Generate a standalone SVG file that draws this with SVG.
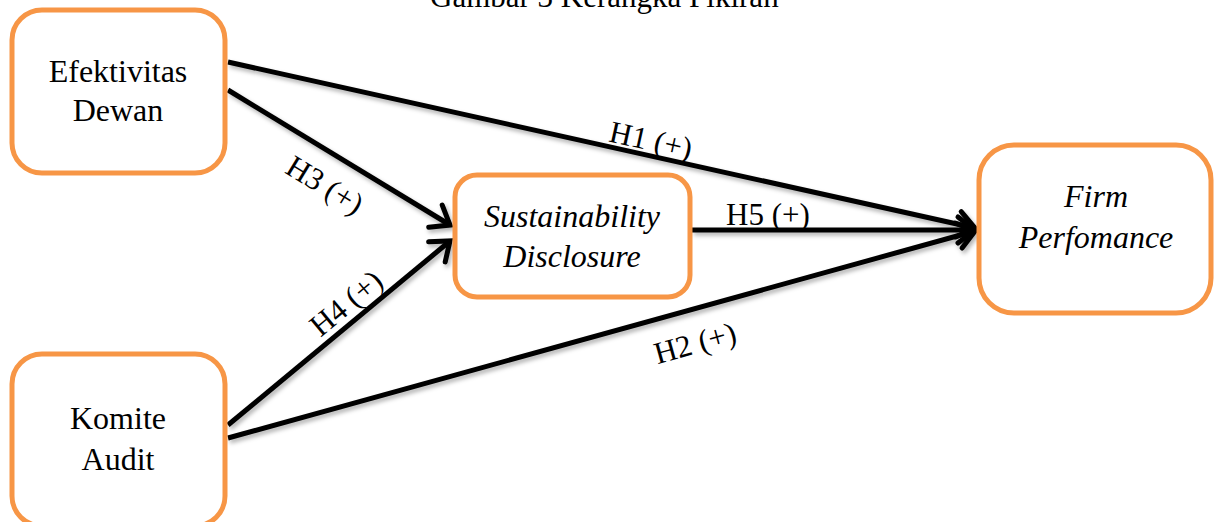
<svg xmlns="http://www.w3.org/2000/svg" width="1215" height="522" viewBox="0 0 1215 522">
<style>
.box{fill:#fff;stroke:#F79646;stroke-width:5}
.t{font-family:"Liberation Serif","Times New Roman",serif;font-size:32px;fill:#000;text-anchor:middle}
.i{font-style:italic}
.lbl{font-family:"Liberation Serif","Times New Roman",serif;font-size:31px;fill:#000;text-anchor:middle}
.ln{stroke:#000;stroke-width:5;fill:none;marker-end:url(#arr)}
</style>
<defs>
<marker id="arr" markerUnits="userSpaceOnUse" viewBox="-30 -20 40 40" markerWidth="40" markerHeight="40" refX="0" refY="0" orient="auto" overflow="visible">
<path d="M-17,-13 L0,0 L-17,13" fill="none" stroke="#000" stroke-width="5" stroke-linecap="round" stroke-linejoin="miter"/>
</marker>
<filter id="sh" x="-10%" y="-10%" width="120%" height="130%">
<feDropShadow dx="2" dy="3" stdDeviation="2" flood-color="#000" flood-opacity="0.3"/>
</filter>
</defs>
<rect width="1215" height="522" fill="#fff"/>
<text x="430" y="7" font-family="Liberation Serif, Times New Roman, serif" font-size="31">Gambar 3 Kerangka Pikiran</text>
<g id="connectors" filter="url(#sh)">
<line class="ln" x1="228" y1="62" x2="975" y2="228"/>
<line class="ln" x1="228" y1="90" x2="450" y2="225"/>
<line class="ln" x1="228" y1="425" x2="450" y2="241"/>
<line class="ln" x1="228" y1="438" x2="975" y2="231"/>
<line class="ln" x1="692" y1="230" x2="975" y2="230"/>
</g>
<g id="labels">
<text class="lbl" transform="translate(651,140) rotate(12.5)" dominant-baseline="central">H1 (+)</text>
<text class="lbl" transform="translate(325,185) rotate(31.3)" dominant-baseline="central">H3 (+)</text>
<text class="lbl" transform="translate(346,303) rotate(-39.6)" dominant-baseline="central">H4 (+)</text>
<text class="lbl" transform="translate(695,343) rotate(-15.5)" dominant-baseline="central">H2 (+)</text>
<text class="lbl" x="768" y="225">H5 (+)</text>
</g>
<g id="node-efektivitas">
<rect class="box" x="12" y="10" width="213" height="163" rx="30"/>
<text class="t" x="118" y="82">Efektivitas</text>
<text class="t" x="118" y="121">Dewan</text>
</g>
<g id="node-komite">
<rect class="box" x="12" y="354" width="213" height="172" rx="30"/>
<text class="t" x="118" y="429">Komite</text>
<text class="t" x="118" y="470">Audit</text>
</g>
<g id="node-sustainability">
<rect class="box" x="455" y="175" width="235" height="122" rx="22"/>
<text class="t i" x="572" y="227">Sustainability</text>
<text class="t i" x="572" y="267">Disclosure</text>
</g>
<g id="node-firm">
<rect class="box" x="979" y="145" width="232" height="168" rx="35"/>
<text class="t i" x="1096" y="207">Firm</text>
<text class="t i" x="1096" y="248">Perfomance</text>
</g>
</svg>
